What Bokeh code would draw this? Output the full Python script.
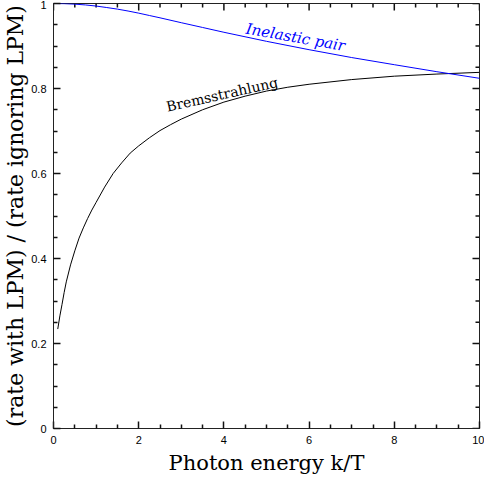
import math
from bokeh.plotting import figure
from bokeh.models import LinearAxis, FixedTicker, Label
from bokeh.embed import file_html
from bokeh.resources import INLINE

# Data
brems_x = [0.1, 0.15, 0.2, 0.25, 0.3, 0.4, 0.5, 0.6, 0.7, 0.8, 0.9, 1.0, 1.2, 1.4, 1.6, 1.8,
           2.0, 2.25, 2.5, 2.75, 3.0, 3.5, 4.0, 4.5, 5.0, 5.5, 6.0, 7.0, 8.0, 9.0, 10.0]
brems_y = [0.234, 0.265, 0.292, 0.320, 0.345, 0.385, 0.418, 0.448, 0.472, 0.494, 0.514, 0.532,
           0.568, 0.600, 0.625, 0.648, 0.665, 0.684, 0.701, 0.715, 0.728, 0.750, 0.768, 0.782,
           0.794, 0.803, 0.810, 0.821, 0.829, 0.834, 0.838]

pair_x = [0.0, 0.25, 0.5, 0.75, 1.0, 1.25, 1.5, 1.75, 2.0, 2.25, 2.5, 3.0, 3.5, 4.0, 5.0, 6.0,
          7.0, 8.0, 9.0, 10.0]
pair_y = [1.0, 0.9996, 0.9985, 0.9966, 0.994, 0.9905, 0.9868, 0.9823, 0.9773, 0.9718, 0.9663,
          0.9548, 0.9436, 0.9323, 0.911, 0.8913, 0.8728, 0.856, 0.8395, 0.824]

x_ticks = [0, 2, 4, 6, 8, 10]
x_tick_labels = ["0", "2", "4", "6", "8", "10"]
x_minor = [0.5, 1, 1.5, 2.5, 3, 3.5, 4.5, 5, 5.5, 6.5, 7, 7.5, 8.5, 9, 9.5]
y_ticks = [0, 0.2, 0.4, 0.6, 0.8, 1]
y_tick_labels = ["0", "0.2", "0.4", "0.6", "0.8", "1"]
y_minor = [0.05, 0.1, 0.15, 0.25, 0.3, 0.35, 0.45, 0.5, 0.55, 0.65, 0.7, 0.75, 0.85, 0.9, 0.95]

x_label = "Photon energy k/T"
y_label = "(rate with LPM) / (rate ignoring LPM)"

SERIF = "DejaVu Serif"
SANS = "Liberation Sans"

p = figure(width=484, height=477, x_range=(0, 10), y_range=(0, 1),
           output_backend="svg", toolbar_location=None,
           x_axis_location=None, y_axis_location=None,
           min_border_left=52, min_border_right=5, min_border_top=3, min_border_bottom=49)
p.xgrid.visible = False
p.ygrid.visible = False
p.outline_line_color = "#222222"

xt = FixedTicker(ticks=x_ticks, minor_ticks=x_minor)
yt = FixedTicker(ticks=y_ticks, minor_ticks=y_minor)
tick_color = "#111111"
tick_width = 1.5


def style(ax):
    ax.axis_line_color = "#222222"
    ax.major_tick_line_color = tick_color
    ax.minor_tick_line_color = tick_color
    ax.major_tick_line_width = tick_width
    ax.minor_tick_line_width = tick_width
    ax.major_tick_in = 7
    ax.major_tick_out = 0
    ax.minor_tick_in = 4
    ax.minor_tick_out = 0
    ax.major_label_text_font = SANS
    ax.major_label_text_font_size = "11px"
    ax.major_label_text_color = "black"
    ax.axis_label_text_font = SERIF
    ax.axis_label_text_font_style = "normal"
    ax.axis_label_text_color = "black"


bottom = LinearAxis(ticker=xt, axis_label=x_label,
                    major_label_overrides={float(t): l for t, l in zip(x_ticks, x_tick_labels)})
style(bottom)
bottom.major_label_standoff = 7
bottom.axis_label_standoff = 4
bottom.axis_label_text_font_size = "21px"

left = LinearAxis(ticker=yt, axis_label=y_label,
                  major_label_overrides={float(t): l for t, l in zip(y_ticks, y_tick_labels)})
style(left)
left.major_label_standoff = 7
left.axis_label_standoff = 0
left.axis_label_text_font_size = "22px"

p.add_layout(bottom, "below")
p.add_layout(left, "left")

# inward ticks on the top and right edges, drawn as short rays (length in screen pixels)
x1 = p.x_range.end
y1 = p.y_range.end
for xs, ln in ((x_ticks, 7), (x_minor, 4)):
    p.ray(x=xs, y=[y1] * len(xs), length=ln, length_units="screen", angle=-math.pi / 2,
          line_color=tick_color, line_width=tick_width)
for ys, ln in ((y_ticks, 7), (y_minor, 4)):
    p.ray(x=[x1] * len(ys), y=ys, length=ln, length_units="screen", angle=math.pi,
          line_color=tick_color, line_width=tick_width)

p.line(brems_x, brems_y, line_color="black", line_width=1)
p.line(pair_x, pair_y, line_color="#0000ff", line_width=1)

p.add_layout(Label(x=2.65, y=0.757, text="Bremsstrahlung", angle=0.22,
                   text_font=SERIF, text_font_size="14px", text_color="black",
                   text_baseline="alphabetic", text_align="left"))
p.add_layout(Label(x=4.52, y=0.941, text="Inelastic pair", angle=-0.175,
                   text_font=SERIF, text_font_size="15px", text_font_style="italic",
                   text_color="#0000ff", text_baseline="alphabetic", text_align="left"))

open("out.html", "w").write(file_html(p, INLINE))
